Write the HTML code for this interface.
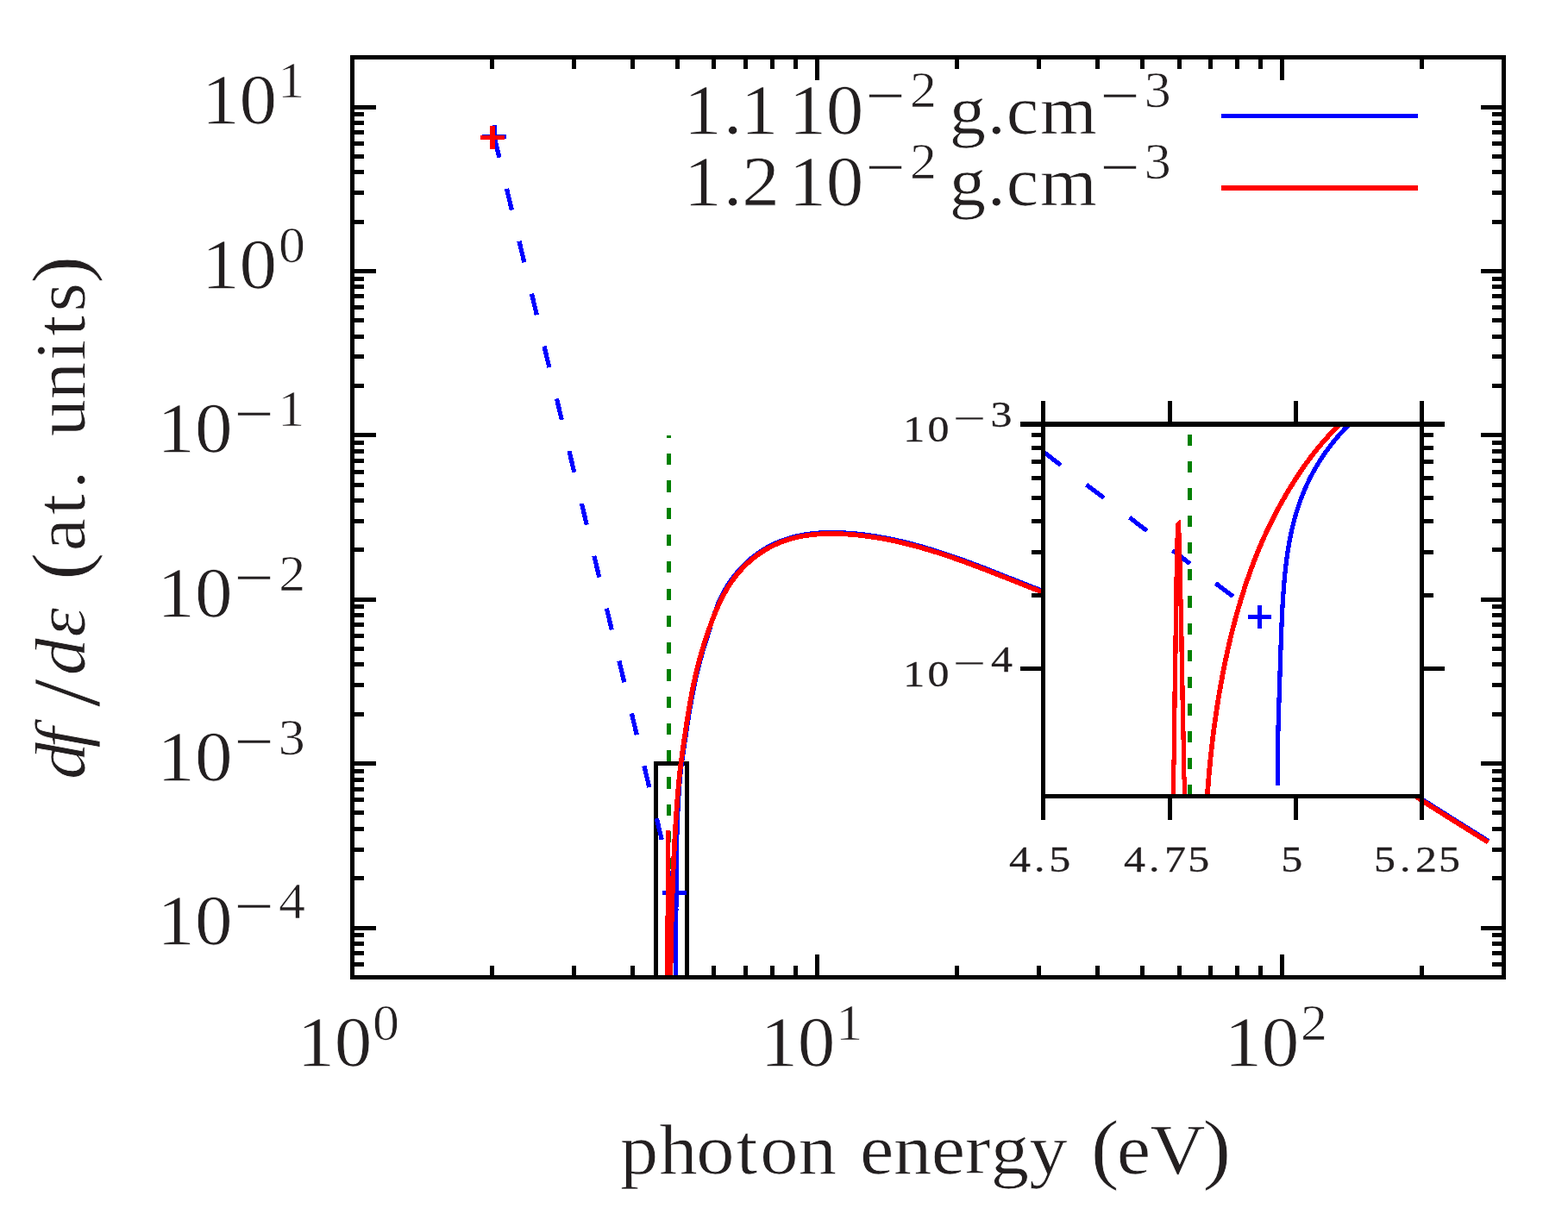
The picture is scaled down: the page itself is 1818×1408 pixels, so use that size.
<!DOCTYPE html>
<html lang="en"><head><meta charset="utf-8"><title>df/dε vs photon energy</title>
<style>html,body{margin:0;padding:0;background:#fff;overflow:hidden}svg{display:block}text{white-space:pre}</style>
</head><body>
<svg width="1818" height="1408" viewBox="0 0 1818 1408" xml:space="preserve" font-family="'Liberation Serif', 'DejaVu Serif', serif" fill="#231f20">
<rect width="1818" height="1408" fill="#fff"/>
<defs>
<clipPath id="cm"><rect x="408.5" y="66.5" width="1335.0" height="1067.0"/></clipPath>
<clipPath id="ci"><rect x="1209.7" y="491.7" width="438.79999999999995" height="431.8"/></clipPath>
</defs>
<g shape-rendering="crispEdges">
<rect x="758.11" y="883.10" width="5.00" height="250.40" fill="#000"/>
<rect x="794.20" y="883.10" width="5.00" height="250.40" fill="#000"/>
<rect x="758.11" y="883.10" width="41.09" height="5.00" fill="#000"/>
</g>
<g shape-rendering="crispEdges" fill="none">
<g clip-path="url(#cm)">
<path d="M775.5,1133.5 L775.5,504.80" stroke="#008000" stroke-width="5" stroke-dasharray="13.2 18.07"/>
<path d="M573.00,158.00L782.00,1035.80" stroke="#0000ff" stroke-width="5.2" stroke-dasharray="25.4 37.16"/>
</g>
<path d="M559.0,158.6 H587.0 M573.0,145.1 V172.1" stroke="#0000ff" stroke-width="5"/>
<path d="M768.0,1035.8 H796.0 M782.0,1021.8 V1049.8" stroke="#0000ff" stroke-width="5"/>
<g clip-path="url(#cm)">
<path d="M783.61,1166.44C783.61,1165.66 783.60,1163.31 783.60,1161.74C783.60,1160.17 783.59,1158.61 783.59,1157.04C783.59,1155.47 783.59,1153.91 783.59,1152.34C783.59,1150.77 783.59,1149.21 783.59,1147.64C783.59,1146.08 783.59,1144.51 783.59,1142.94C783.60,1141.38 783.60,1139.81 783.60,1138.24C783.61,1136.68 783.61,1135.11 783.61,1133.54C783.62,1131.98 783.62,1130.41 783.63,1128.84C783.63,1127.28 783.64,1125.71 783.64,1124.14C783.65,1122.58 783.65,1121.01 783.66,1119.44C783.66,1117.88 783.67,1116.31 783.67,1114.74C783.68,1113.18 783.68,1111.61 783.69,1110.05C783.70,1108.48 783.70,1106.91 783.71,1105.35C783.71,1103.78 783.72,1102.21 783.73,1100.65C783.73,1099.08 783.74,1097.51 783.75,1095.95C783.75,1094.38 783.76,1092.81 783.76,1091.25C783.77,1089.68 783.78,1088.11 783.78,1086.55C783.79,1084.98 783.80,1083.41 783.80,1081.85C783.81,1080.28 783.81,1078.72 783.82,1077.15C783.83,1075.58 783.83,1074.02 783.84,1072.45C783.84,1070.88 783.85,1069.32 783.86,1067.75C783.86,1066.18 783.87,1064.62 783.88,1063.05C783.88,1061.48 783.89,1059.92 783.89,1058.35C783.90,1056.78 783.91,1055.22 783.91,1053.65C783.92,1052.08 783.93,1050.52 783.94,1048.95C783.94,1047.38 783.95,1045.82 783.96,1044.25C783.97,1042.69 783.97,1041.12 783.98,1039.55C783.99,1037.99 784.00,1036.42 784.01,1034.85C784.02,1033.29 784.02,1031.72 784.03,1030.15C784.04,1028.59 784.05,1027.02 784.06,1025.45C784.08,1023.89 784.09,1022.32 784.10,1020.75C784.11,1019.19 784.12,1017.62 784.14,1016.05C784.15,1014.49 784.16,1012.92 784.18,1011.35C784.19,1009.79 784.21,1008.22 784.23,1006.66C784.24,1005.09 784.26,1003.52 784.28,1001.96C784.30,1000.39 784.32,998.82 784.34,997.26C784.36,995.69 784.39,994.12 784.41,992.56C784.43,990.99 784.46,989.42 784.49,987.86C784.51,986.29 784.54,984.72 784.57,983.16C784.60,981.59 784.63,980.02 784.67,978.46C784.70,976.89 784.73,975.32 784.77,973.76C784.81,972.19 784.85,970.63 784.89,969.06C784.93,967.49 784.97,965.93 785.02,964.36C785.06,962.79 785.11,961.23 785.16,959.66C785.21,958.09 785.27,956.53 785.32,954.96C785.38,953.39 785.44,951.83 785.50,950.26C785.56,948.69 785.62,947.13 785.69,945.56C785.76,943.99 785.83,942.43 785.90,940.86C785.98,939.29 786.05,937.73 786.13,936.16C786.21,934.60 786.30,933.03 786.38,931.46C786.47,929.90 786.56,928.33 786.66,926.76C786.75,925.20 786.85,923.63 786.96,922.06C787.06,920.50 787.17,918.93 787.28,917.36C787.39,915.80 787.51,914.23 787.63,912.66C787.75,911.10 787.87,909.53 788.00,907.96C788.13,906.40 788.27,904.83 788.41,903.27C788.55,901.70 788.69,900.13 788.84,898.57C788.99,897.00 789.15,895.43 789.31,893.87C789.47,892.30 788.92,895.47 789.81,889.17C790.71,882.86 793.72,862.56 794.68,856.05C795.64,849.53 795.26,852.07 795.55,850.09C795.85,848.10 796.14,846.11 796.44,844.13C796.74,842.14 797.04,840.15 797.35,838.17C797.66,836.18 797.97,834.20 798.28,832.22C798.60,830.23 798.92,828.25 799.24,826.27C799.57,824.29 799.90,822.31 800.24,820.33C800.57,818.35 800.92,816.37 801.27,814.39C801.62,812.41 801.98,810.44 802.35,808.46C802.71,806.49 803.09,804.52 803.47,802.55C803.86,800.58 804.25,798.61 804.65,796.64C805.06,794.67 805.47,792.71 805.89,790.74C806.32,788.78 806.75,786.82 807.20,784.86C807.64,782.90 808.10,780.95 808.57,778.99C809.03,777.04 809.51,775.09 810.01,773.14C810.50,771.19 811.00,769.24 811.52,767.30C812.03,765.35 812.56,763.41 813.10,761.47C813.64,759.54 814.19,757.60 814.75,755.67C815.32,753.74 815.89,751.81 816.48,749.88C817.07,747.96 817.67,746.03 818.28,744.12C818.89,742.20 819.54,740.29 820.15,738.37C820.77,736.45 821.38,734.53 821.97,732.61C822.55,730.68 823.08,728.74 823.66,726.81C824.24,724.88 824.83,722.96 825.43,721.04C826.04,719.12 826.65,717.20 827.28,715.29C827.92,713.38 828.56,711.48 829.23,709.58C829.90,707.69 830.60,705.85 831.29,703.93C831.97,702.01 832.55,699.94 833.33,698.06C834.11,696.18 835.07,694.44 835.97,692.65C836.88,690.86 837.81,689.08 838.77,687.33C839.74,685.57 840.73,683.83 841.75,682.11C842.77,680.40 843.83,678.69 844.92,677.02C846.01,675.34 847.13,673.69 848.29,672.06C849.46,670.43 850.66,668.82 851.90,667.25C853.14,665.67 854.42,664.12 855.73,662.59C857.05,661.07 858.41,659.58 859.79,658.12C861.18,656.65 862.61,655.22 864.07,653.83C865.52,652.43 867.01,651.07 868.54,649.74C870.06,648.41 871.61,647.12 873.19,645.87C874.77,644.61 876.38,643.40 878.02,642.22C879.66,641.05 881.32,639.91 883.01,638.82C884.70,637.73 886.41,636.68 888.14,635.67C889.88,634.67 891.64,633.71 893.41,632.80C895.19,631.89 896.76,631.10 898.81,630.20C900.86,629.30 903.62,628.20 905.71,627.40C907.79,626.59 909.43,626.00 911.31,625.36C913.20,624.73 915.10,624.14 917.01,623.59C918.92,623.04 920.85,622.54 922.79,622.07C924.72,621.61 926.68,621.19 928.64,620.80C930.60,620.41 932.57,620.06 934.55,619.75C936.53,619.44 938.52,619.17 940.52,618.93C942.52,618.69 944.52,618.48 946.53,618.31C948.54,618.14 950.56,618.00 952.58,617.89C954.60,617.78 956.63,617.70 958.65,617.65C960.68,617.60 962.71,617.58 964.74,617.58C966.78,617.58 968.81,617.61 970.84,617.66C972.87,617.71 974.91,617.79 976.94,617.89C978.97,617.98 981.00,618.10 983.02,618.24C985.04,618.38 987.07,618.53 989.08,618.70C991.10,618.88 993.11,619.07 995.12,619.27C997.13,619.48 999.13,619.71 1001.13,619.95C1003.13,620.19 1005.13,620.44 1007.12,620.72C1009.12,620.99 1011.11,621.28 1013.09,621.58C1015.08,621.89 1017.06,622.21 1019.04,622.54C1021.02,622.88 1022.99,623.23 1024.96,623.59C1026.94,623.96 1028.90,624.33 1030.87,624.73C1032.83,625.12 1034.80,625.52 1036.75,625.94C1038.71,626.36 1040.67,626.80 1042.62,627.24C1044.57,627.69 1046.52,628.14 1048.47,628.61C1050.41,629.08 1052.36,629.57 1054.30,630.06C1056.24,630.55 1058.17,631.06 1060.11,631.58C1062.04,632.09 1063.97,632.62 1065.90,633.16C1067.83,633.70 1069.76,634.25 1071.68,634.81C1073.61,635.37 1075.53,635.93 1077.45,636.51C1079.37,637.09 1081.28,637.68 1083.20,638.28C1085.11,638.87 1087.02,639.48 1088.93,640.09C1090.84,640.71 1092.75,641.33 1094.66,641.96C1096.56,642.59 1098.46,643.23 1100.37,643.88C1102.27,644.52 1104.17,645.18 1106.06,645.84C1107.96,646.49 1109.86,647.16 1111.75,647.83C1113.65,648.51 1115.54,649.19 1117.43,649.87C1119.32,650.56 1121.21,651.25 1123.09,651.94C1124.98,652.64 1126.87,653.34 1128.75,654.05C1130.64,654.75 1132.52,655.46 1134.40,656.18C1136.28,656.89 1138.16,657.61 1140.04,658.33C1141.92,659.05 1143.80,659.78 1145.68,660.51C1147.55,661.24 1149.43,661.97 1151.30,662.70C1153.18,663.44 1155.05,664.18 1156.92,664.91C1158.80,665.65 1160.67,666.39 1162.54,667.14C1164.41,667.88 1166.28,668.62 1168.15,669.37C1170.02,670.11 1171.89,670.86 1173.76,671.60C1175.63,672.35 1177.50,673.09 1179.36,673.84C1181.23,674.58 1183.10,675.33 1184.97,676.08C1186.83,676.82 1188.70,677.56 1190.57,678.31C1192.43,679.05 1194.30,679.79 1196.17,680.53C1198.03,681.27 1199.90,682.01 1201.76,682.74C1203.63,683.48 1190.94,677.97 1207.36,684.94C1223.78,691.92 1268.14,709.66 1300.30,724.60C1332.46,739.54 1366.97,756.77 1400.30,774.60C1433.63,792.43 1466.97,811.60 1500.30,831.60C1533.63,851.60 1575.15,878.45 1600.30,894.60C1625.45,910.75 1630.28,915.02 1651.20,928.50C1672.12,941.98 1713.37,967.67 1725.80,975.50" stroke="#0000ff" stroke-width="5.2"/>
<path d="M773.50,1160.00L773.60,1133.50L774.45,990.00L774.60,962.90L774.70,990.00L774.95,1133.50L775.00,1160.00" stroke="#ff0000" stroke-width="5" stroke-linejoin="bevel"/>
<path d="M776.74,1192.85C776.77,1189.88 776.89,1178.77 776.93,1175.02C776.96,1171.27 776.95,1171.90 776.97,1170.33C776.98,1168.77 777.00,1167.21 777.01,1165.65C777.03,1164.09 777.04,1162.52 777.06,1160.96C777.07,1159.40 777.09,1157.84 777.11,1156.28C777.13,1154.71 777.14,1153.15 777.16,1151.59C777.18,1150.03 777.20,1148.46 777.22,1146.90C777.24,1145.34 777.26,1143.78 777.28,1142.22C777.30,1140.65 777.32,1139.09 777.34,1137.53C777.36,1135.97 777.39,1134.40 777.41,1132.84C777.43,1131.28 777.46,1129.72 777.48,1128.16C777.50,1126.59 777.53,1125.03 777.55,1123.47C777.58,1121.91 777.60,1120.34 777.63,1118.78C777.66,1117.22 777.68,1115.66 777.71,1114.10C777.74,1112.53 777.77,1110.97 777.79,1109.41C777.82,1107.85 777.85,1106.29 777.88,1104.72C777.91,1103.16 777.94,1101.60 777.97,1100.04C778.00,1098.47 778.04,1096.91 778.07,1095.35C778.10,1093.79 778.13,1092.23 778.17,1090.66C778.20,1089.10 778.24,1087.54 778.27,1085.98C778.31,1084.41 778.34,1082.85 778.38,1081.29C778.41,1079.73 778.45,1078.17 778.49,1076.60C778.53,1075.04 778.57,1073.48 778.61,1071.92C778.64,1070.35 778.68,1068.79 778.73,1067.23C778.77,1065.67 778.81,1064.11 778.85,1062.54C778.89,1060.98 778.94,1059.42 778.98,1057.86C779.02,1056.29 779.07,1054.73 779.11,1053.17C779.16,1051.61 779.21,1050.05 779.25,1048.48C779.30,1046.92 779.35,1045.36 779.40,1043.80C779.45,1042.24 779.50,1040.67 779.55,1039.11C779.60,1037.55 779.65,1035.99 779.70,1034.42C779.76,1032.86 779.81,1031.30 779.86,1029.74C779.92,1028.18 779.98,1026.61 780.03,1025.05C780.09,1023.49 780.15,1021.93 780.20,1020.36C780.26,1018.80 780.32,1017.24 780.38,1015.68C780.45,1014.12 780.51,1012.55 780.57,1010.99C780.63,1009.43 780.70,1007.87 780.76,1006.30C780.83,1004.74 780.89,1003.18 780.96,1001.62C781.03,1000.06 781.10,998.49 781.17,996.93C781.24,995.37 781.31,993.81 781.38,992.25C781.46,990.68 781.53,989.12 781.61,987.56C781.68,986.00 781.76,984.43 781.84,982.87C781.92,981.31 782.00,979.75 782.08,978.19C782.16,976.62 782.24,975.06 782.33,973.50C782.41,971.94 782.50,970.37 782.59,968.81C782.68,967.25 782.77,965.69 782.86,964.13C782.95,962.56 783.04,961.00 783.14,959.44C783.24,957.88 783.33,956.31 783.43,954.75C783.53,953.19 783.63,951.63 783.73,950.07C783.84,948.50 783.94,946.94 784.05,945.38C784.15,943.82 784.26,942.25 784.37,940.69C784.48,939.13 784.59,937.57 784.70,936.01C784.81,934.44 784.93,932.88 785.05,931.32C785.16,929.76 785.28,928.20 785.40,926.63C785.53,925.07 785.65,923.51 785.78,921.95C785.90,920.38 786.03,918.82 786.16,917.26C786.30,915.70 786.43,914.14 786.57,912.57C786.71,911.01 786.85,909.45 787.00,907.89C787.14,906.32 787.29,904.76 787.44,903.20C787.60,901.64 787.76,900.08 787.92,898.51C788.08,896.95 788.25,895.39 788.42,893.83C788.60,892.26 788.39,893.45 788.96,889.14C789.53,884.83 791.23,872.49 791.85,867.97C792.48,863.45 792.42,864.00 792.71,862.01C793.00,860.02 793.29,858.04 793.58,856.05C793.87,854.06 794.16,852.07 794.45,850.09C794.75,848.10 795.04,846.11 795.34,844.13C795.64,842.14 795.94,840.15 796.25,838.17C796.56,836.18 796.87,834.20 797.18,832.22C797.50,830.23 797.82,828.25 798.14,826.27C798.47,824.29 798.80,822.31 799.14,820.33C799.47,818.35 799.82,816.37 800.17,814.39C800.52,812.41 800.88,810.44 801.25,808.46C801.61,806.49 801.99,804.52 802.37,802.55C802.76,800.58 803.15,798.61 803.55,796.64C803.96,794.67 804.37,792.71 804.79,790.74C805.22,788.78 805.65,786.82 806.10,784.86C806.54,782.90 807.00,780.95 807.47,778.99C807.93,777.04 808.41,775.09 808.91,773.14C809.40,771.19 809.90,769.24 810.42,767.30C810.93,765.35 811.46,763.41 812.00,761.47C812.54,759.54 813.09,757.60 813.65,755.67C814.22,753.74 814.79,751.81 815.38,749.88C815.97,747.96 816.57,746.03 817.18,744.12C817.79,742.20 818.42,740.28 819.05,738.37C819.69,736.46 820.34,734.55 821.00,732.65C821.66,730.74 822.33,728.84 823.02,726.95C823.71,725.05 824.40,723.16 825.12,721.27C825.83,719.38 826.55,717.50 827.29,715.62C828.03,713.75 828.78,711.87 829.56,710.01C830.33,708.15 831.12,706.29 831.93,704.45C832.74,702.61 833.57,700.78 834.43,698.96C835.29,697.14 836.17,695.34 837.07,693.55C837.98,691.76 838.91,689.98 839.87,688.23C840.84,686.47 841.83,684.73 842.85,683.01C843.87,681.30 844.93,679.59 846.02,677.92C847.11,676.24 848.23,674.59 849.39,672.96C850.56,671.33 851.76,669.72 853.00,668.15C854.24,666.57 855.52,665.02 856.83,663.49C858.15,661.97 859.51,660.48 860.89,659.02C862.28,657.55 863.71,656.12 865.17,654.73C866.62,653.33 868.11,651.97 869.64,650.64C871.16,649.31 872.71,648.02 874.29,646.77C875.87,645.51 877.48,644.30 879.12,643.12C880.76,641.95 882.42,640.81 884.11,639.72C885.80,638.63 887.51,637.58 889.24,636.57C890.98,635.57 892.74,634.61 894.51,633.70C896.29,632.79 898.09,631.92 899.91,631.10C901.72,630.29 903.56,629.52 905.41,628.80C907.26,628.07 909.13,627.40 911.01,626.76C912.90,626.13 914.80,625.54 916.71,624.99C918.62,624.44 920.55,623.94 922.49,623.47C924.42,623.01 926.38,622.59 928.34,622.20C930.30,621.81 932.27,621.46 934.25,621.15C936.23,620.84 938.22,620.57 940.22,620.33C942.22,620.09 944.22,619.88 946.23,619.71C948.24,619.54 950.26,619.40 952.28,619.29C954.30,619.18 956.33,619.10 958.35,619.05C960.38,619.00 962.41,618.98 964.44,618.98C966.48,618.98 968.51,619.01 970.54,619.06C972.57,619.11 974.61,619.19 976.64,619.29C978.67,619.38 980.70,619.50 982.72,619.64C984.74,619.78 986.77,619.93 988.78,620.10C990.80,620.28 992.81,620.47 994.82,620.67C996.83,620.88 998.83,621.11 1000.83,621.35C1002.83,621.59 1004.83,621.84 1006.82,622.12C1008.82,622.39 1010.81,622.68 1012.79,622.98C1014.78,623.29 1016.76,623.61 1018.74,623.94C1020.72,624.28 1022.69,624.63 1024.66,624.99C1026.64,625.36 1028.60,625.73 1030.57,626.13C1032.53,626.52 1034.50,626.92 1036.45,627.34C1038.41,627.76 1040.37,628.20 1042.32,628.64C1044.27,629.09 1046.22,629.54 1048.17,630.01C1050.11,630.48 1052.06,630.97 1054.00,631.46C1055.94,631.95 1057.87,632.46 1059.81,632.98C1061.74,633.49 1063.67,634.02 1065.60,634.56C1067.53,635.10 1069.46,635.65 1071.38,636.21C1073.31,636.77 1075.23,637.33 1077.15,637.91C1079.07,638.49 1080.98,639.08 1082.90,639.68C1084.81,640.27 1086.72,640.88 1088.63,641.49C1090.54,642.11 1092.45,642.73 1094.36,643.36C1096.26,643.99 1098.16,644.63 1100.07,645.28C1101.97,645.92 1103.87,646.58 1105.76,647.24C1107.66,647.89 1109.56,648.56 1111.45,649.23C1113.35,649.91 1115.24,650.59 1117.13,651.27C1119.02,651.96 1120.91,652.65 1122.79,653.34C1124.68,654.04 1126.57,654.74 1128.45,655.45C1130.34,656.15 1132.22,656.86 1134.10,657.58C1135.98,658.29 1137.86,659.01 1139.74,659.73C1141.62,660.45 1143.50,661.18 1145.38,661.91C1147.25,662.64 1149.13,663.37 1151.00,664.10C1152.88,664.84 1154.75,665.58 1156.62,666.31C1158.50,667.05 1160.37,667.79 1162.24,668.54C1164.11,669.28 1165.98,670.02 1167.85,670.77C1169.72,671.51 1171.59,672.26 1173.46,673.00C1175.33,673.75 1177.20,674.49 1179.06,675.24C1180.93,675.98 1182.80,676.73 1184.67,677.48C1186.53,678.22 1188.40,678.96 1190.27,679.71C1192.13,680.45 1194.00,681.19 1195.87,681.93C1197.73,682.67 1199.60,683.41 1201.46,684.14C1203.33,684.88 1190.64,679.37 1207.06,686.34C1223.48,693.32 1267.84,711.06 1300.00,726.00C1332.16,740.94 1366.67,758.17 1400.00,776.00C1433.33,793.83 1466.67,813.00 1500.00,833.00C1533.33,853.00 1574.85,879.85 1600.00,896.00C1625.15,912.15 1629.98,916.42 1650.90,929.90C1671.82,943.38 1713.07,969.07 1725.50,976.90" stroke="#ff0000" stroke-width="5.7"/>
</g>
<path d="M557.0,159.4 H585.0 M571.0,145.9 V172.9" stroke="#ff0000" stroke-width="5.6"/>
</g>
<g shape-rendering="crispEdges">
<rect x="406.00" y="64.00" width="1340.00" height="5.00" fill="#000"/>
<rect x="406.00" y="1131.00" width="1340.00" height="5.00" fill="#000"/>
<rect x="406.00" y="66.50" width="5.00" height="1067.00" fill="#000"/>
<rect x="1741.00" y="66.50" width="5.00" height="1067.00" fill="#000"/>
<rect x="568.27" y="1120.00" width="5.00" height="13.50" fill="#000"/>
<rect x="568.27" y="66.50" width="5.00" height="13.50" fill="#000"/>
<rect x="663.19" y="1120.00" width="5.00" height="13.50" fill="#000"/>
<rect x="663.19" y="66.50" width="5.00" height="13.50" fill="#000"/>
<rect x="730.54" y="1120.00" width="5.00" height="13.50" fill="#000"/>
<rect x="730.54" y="66.50" width="5.00" height="13.50" fill="#000"/>
<rect x="782.78" y="66.50" width="5.00" height="13.50" fill="#000"/>
<rect x="825.46" y="1120.00" width="5.00" height="13.50" fill="#000"/>
<rect x="825.46" y="66.50" width="5.00" height="13.50" fill="#000"/>
<rect x="861.55" y="1120.00" width="5.00" height="13.50" fill="#000"/>
<rect x="861.55" y="66.50" width="5.00" height="13.50" fill="#000"/>
<rect x="892.81" y="1120.00" width="5.00" height="13.50" fill="#000"/>
<rect x="892.81" y="66.50" width="5.00" height="13.50" fill="#000"/>
<rect x="920.38" y="1120.00" width="5.00" height="13.50" fill="#000"/>
<rect x="920.38" y="66.50" width="5.00" height="13.50" fill="#000"/>
<rect x="945.05" y="1107.00" width="5.00" height="26.50" fill="#000"/>
<rect x="945.05" y="66.50" width="5.00" height="26.50" fill="#000"/>
<rect x="1107.32" y="1120.00" width="5.00" height="13.50" fill="#000"/>
<rect x="1107.32" y="66.50" width="5.00" height="13.50" fill="#000"/>
<rect x="1202.24" y="1120.00" width="5.00" height="13.50" fill="#000"/>
<rect x="1202.24" y="66.50" width="5.00" height="13.50" fill="#000"/>
<rect x="1269.59" y="1120.00" width="5.00" height="13.50" fill="#000"/>
<rect x="1269.59" y="66.50" width="5.00" height="13.50" fill="#000"/>
<rect x="1321.83" y="1120.00" width="5.00" height="13.50" fill="#000"/>
<rect x="1321.83" y="66.50" width="5.00" height="13.50" fill="#000"/>
<rect x="1364.51" y="1120.00" width="5.00" height="13.50" fill="#000"/>
<rect x="1364.51" y="66.50" width="5.00" height="13.50" fill="#000"/>
<rect x="1400.60" y="1120.00" width="5.00" height="13.50" fill="#000"/>
<rect x="1400.60" y="66.50" width="5.00" height="13.50" fill="#000"/>
<rect x="1431.86" y="1120.00" width="5.00" height="13.50" fill="#000"/>
<rect x="1431.86" y="66.50" width="5.00" height="13.50" fill="#000"/>
<rect x="1459.43" y="1120.00" width="5.00" height="13.50" fill="#000"/>
<rect x="1459.43" y="66.50" width="5.00" height="13.50" fill="#000"/>
<rect x="1484.10" y="1107.00" width="5.00" height="26.50" fill="#000"/>
<rect x="1484.10" y="66.50" width="5.00" height="26.50" fill="#000"/>
<rect x="1646.37" y="1120.00" width="5.00" height="13.50" fill="#000"/>
<rect x="1646.37" y="66.50" width="5.00" height="13.50" fill="#000"/>
<rect x="408.50" y="1115.74" width="13.50" height="5.00" fill="#000"/>
<rect x="1730.00" y="1115.74" width="13.50" height="5.00" fill="#000"/>
<rect x="408.50" y="1102.99" width="13.50" height="5.00" fill="#000"/>
<rect x="1730.00" y="1102.99" width="13.50" height="5.00" fill="#000"/>
<rect x="408.50" y="1091.95" width="13.50" height="5.00" fill="#000"/>
<rect x="1730.00" y="1091.95" width="13.50" height="5.00" fill="#000"/>
<rect x="408.50" y="1082.21" width="13.50" height="5.00" fill="#000"/>
<rect x="1730.00" y="1082.21" width="13.50" height="5.00" fill="#000"/>
<rect x="408.50" y="1073.50" width="27.40" height="5.00" fill="#000"/>
<rect x="1717.00" y="1073.50" width="26.50" height="5.00" fill="#000"/>
<rect x="408.50" y="1016.18" width="13.50" height="5.00" fill="#000"/>
<rect x="1730.00" y="1016.18" width="13.50" height="5.00" fill="#000"/>
<rect x="408.50" y="982.66" width="13.50" height="5.00" fill="#000"/>
<rect x="1730.00" y="982.66" width="13.50" height="5.00" fill="#000"/>
<rect x="408.50" y="958.87" width="13.50" height="5.00" fill="#000"/>
<rect x="1730.00" y="958.87" width="13.50" height="5.00" fill="#000"/>
<rect x="408.50" y="940.42" width="13.50" height="5.00" fill="#000"/>
<rect x="1730.00" y="940.42" width="13.50" height="5.00" fill="#000"/>
<rect x="408.50" y="925.34" width="13.50" height="5.00" fill="#000"/>
<rect x="1730.00" y="925.34" width="13.50" height="5.00" fill="#000"/>
<rect x="408.50" y="912.59" width="13.50" height="5.00" fill="#000"/>
<rect x="1730.00" y="912.59" width="13.50" height="5.00" fill="#000"/>
<rect x="408.50" y="901.55" width="13.50" height="5.00" fill="#000"/>
<rect x="1730.00" y="901.55" width="13.50" height="5.00" fill="#000"/>
<rect x="408.50" y="891.81" width="13.50" height="5.00" fill="#000"/>
<rect x="1730.00" y="891.81" width="13.50" height="5.00" fill="#000"/>
<rect x="408.50" y="883.10" width="27.40" height="5.00" fill="#000"/>
<rect x="1717.00" y="883.10" width="26.50" height="5.00" fill="#000"/>
<rect x="408.50" y="825.78" width="13.50" height="5.00" fill="#000"/>
<rect x="1730.00" y="825.78" width="13.50" height="5.00" fill="#000"/>
<rect x="408.50" y="792.26" width="13.50" height="5.00" fill="#000"/>
<rect x="1730.00" y="792.26" width="13.50" height="5.00" fill="#000"/>
<rect x="408.50" y="768.47" width="13.50" height="5.00" fill="#000"/>
<rect x="1730.00" y="768.47" width="13.50" height="5.00" fill="#000"/>
<rect x="408.50" y="750.02" width="13.50" height="5.00" fill="#000"/>
<rect x="1730.00" y="750.02" width="13.50" height="5.00" fill="#000"/>
<rect x="408.50" y="734.94" width="13.50" height="5.00" fill="#000"/>
<rect x="1730.00" y="734.94" width="13.50" height="5.00" fill="#000"/>
<rect x="408.50" y="722.19" width="13.50" height="5.00" fill="#000"/>
<rect x="1730.00" y="722.19" width="13.50" height="5.00" fill="#000"/>
<rect x="408.50" y="711.15" width="13.50" height="5.00" fill="#000"/>
<rect x="1730.00" y="711.15" width="13.50" height="5.00" fill="#000"/>
<rect x="408.50" y="701.41" width="13.50" height="5.00" fill="#000"/>
<rect x="1730.00" y="701.41" width="13.50" height="5.00" fill="#000"/>
<rect x="408.50" y="692.70" width="27.40" height="5.00" fill="#000"/>
<rect x="1717.00" y="692.70" width="26.50" height="5.00" fill="#000"/>
<rect x="408.50" y="635.38" width="13.50" height="5.00" fill="#000"/>
<rect x="1730.00" y="635.38" width="13.50" height="5.00" fill="#000"/>
<rect x="408.50" y="601.86" width="13.50" height="5.00" fill="#000"/>
<rect x="1730.00" y="601.86" width="13.50" height="5.00" fill="#000"/>
<rect x="408.50" y="578.07" width="13.50" height="5.00" fill="#000"/>
<rect x="1730.00" y="578.07" width="13.50" height="5.00" fill="#000"/>
<rect x="408.50" y="559.62" width="13.50" height="5.00" fill="#000"/>
<rect x="1730.00" y="559.62" width="13.50" height="5.00" fill="#000"/>
<rect x="408.50" y="544.54" width="13.50" height="5.00" fill="#000"/>
<rect x="1730.00" y="544.54" width="13.50" height="5.00" fill="#000"/>
<rect x="408.50" y="531.79" width="13.50" height="5.00" fill="#000"/>
<rect x="1730.00" y="531.79" width="13.50" height="5.00" fill="#000"/>
<rect x="408.50" y="520.75" width="13.50" height="5.00" fill="#000"/>
<rect x="1730.00" y="520.75" width="13.50" height="5.00" fill="#000"/>
<rect x="408.50" y="511.01" width="13.50" height="5.00" fill="#000"/>
<rect x="1730.00" y="511.01" width="13.50" height="5.00" fill="#000"/>
<rect x="408.50" y="502.30" width="27.40" height="5.00" fill="#000"/>
<rect x="1717.00" y="502.30" width="26.50" height="5.00" fill="#000"/>
<rect x="408.50" y="444.98" width="13.50" height="5.00" fill="#000"/>
<rect x="1730.00" y="444.98" width="13.50" height="5.00" fill="#000"/>
<rect x="408.50" y="411.46" width="13.50" height="5.00" fill="#000"/>
<rect x="1730.00" y="411.46" width="13.50" height="5.00" fill="#000"/>
<rect x="408.50" y="387.67" width="13.50" height="5.00" fill="#000"/>
<rect x="1730.00" y="387.67" width="13.50" height="5.00" fill="#000"/>
<rect x="408.50" y="369.22" width="13.50" height="5.00" fill="#000"/>
<rect x="1730.00" y="369.22" width="13.50" height="5.00" fill="#000"/>
<rect x="408.50" y="354.14" width="13.50" height="5.00" fill="#000"/>
<rect x="1730.00" y="354.14" width="13.50" height="5.00" fill="#000"/>
<rect x="408.50" y="341.39" width="13.50" height="5.00" fill="#000"/>
<rect x="1730.00" y="341.39" width="13.50" height="5.00" fill="#000"/>
<rect x="408.50" y="330.35" width="13.50" height="5.00" fill="#000"/>
<rect x="1730.00" y="330.35" width="13.50" height="5.00" fill="#000"/>
<rect x="408.50" y="320.61" width="13.50" height="5.00" fill="#000"/>
<rect x="1730.00" y="320.61" width="13.50" height="5.00" fill="#000"/>
<rect x="408.50" y="311.90" width="27.40" height="5.00" fill="#000"/>
<rect x="1717.00" y="311.90" width="26.50" height="5.00" fill="#000"/>
<rect x="408.50" y="254.58" width="13.50" height="5.00" fill="#000"/>
<rect x="1730.00" y="254.58" width="13.50" height="5.00" fill="#000"/>
<rect x="408.50" y="221.06" width="13.50" height="5.00" fill="#000"/>
<rect x="1730.00" y="221.06" width="13.50" height="5.00" fill="#000"/>
<rect x="408.50" y="197.27" width="13.50" height="5.00" fill="#000"/>
<rect x="1730.00" y="197.27" width="13.50" height="5.00" fill="#000"/>
<rect x="408.50" y="178.82" width="13.50" height="5.00" fill="#000"/>
<rect x="1730.00" y="178.82" width="13.50" height="5.00" fill="#000"/>
<rect x="408.50" y="163.74" width="13.50" height="5.00" fill="#000"/>
<rect x="1730.00" y="163.74" width="13.50" height="5.00" fill="#000"/>
<rect x="408.50" y="150.99" width="13.50" height="5.00" fill="#000"/>
<rect x="1730.00" y="150.99" width="13.50" height="5.00" fill="#000"/>
<rect x="408.50" y="139.95" width="13.50" height="5.00" fill="#000"/>
<rect x="1730.00" y="139.95" width="13.50" height="5.00" fill="#000"/>
<rect x="408.50" y="130.21" width="13.50" height="5.00" fill="#000"/>
<rect x="1730.00" y="130.21" width="13.50" height="5.00" fill="#000"/>
<rect x="408.50" y="121.50" width="27.40" height="5.00" fill="#000"/>
<rect x="1717.00" y="121.50" width="26.50" height="5.00" fill="#000"/>
</g>
<rect x="1207.2" y="489.2" width="443.79999999999995" height="436.8" fill="#fff"/>
<g shape-rendering="crispEdges" fill="none">
<g clip-path="url(#ci)">
<path d="M1209.70,524.02L1460.40,715.30" stroke="#0000ff" stroke-width="5.2" stroke-dasharray="25.4 37.4"/>
<path d="M1379.6,923.5 L1379.6,491.7" stroke="#008000" stroke-width="5" stroke-dasharray="13.2 18.07"/>
<path d="M1481.57,910.60C1481.54,909.43 1481.45,905.93 1481.40,903.59C1481.36,901.25 1481.33,898.92 1481.31,896.58C1481.29,894.24 1481.27,891.91 1481.27,889.57C1481.27,887.23 1481.27,884.90 1481.29,882.56C1481.30,880.22 1481.32,877.89 1481.35,875.55C1481.38,873.21 1481.41,870.88 1481.45,868.54C1481.49,866.20 1481.53,863.87 1481.58,861.53C1481.63,859.19 1481.68,856.86 1481.74,854.52C1481.79,852.18 1481.86,849.85 1481.92,847.51C1481.98,845.17 1482.05,842.84 1482.12,840.50C1482.18,838.17 1482.25,835.83 1482.32,833.49C1482.40,831.16 1482.47,828.82 1482.54,826.48C1482.62,824.15 1482.69,821.81 1482.77,819.47C1482.85,817.14 1482.92,814.80 1483.00,812.46C1483.08,810.13 1483.15,807.79 1483.23,805.45C1483.31,803.12 1483.38,800.78 1483.46,798.44C1483.54,796.11 1483.61,793.77 1483.69,791.43C1483.77,789.10 1483.84,786.76 1483.92,784.42C1484.00,782.09 1484.07,779.75 1484.15,777.41C1484.23,775.08 1484.30,772.74 1484.38,770.40C1484.46,768.07 1484.53,765.73 1484.61,763.39C1484.69,761.06 1484.76,758.72 1484.84,756.38C1484.92,754.05 1485.00,751.71 1485.08,749.37C1485.16,747.04 1485.24,744.70 1485.33,742.36C1485.41,740.03 1485.50,737.69 1485.59,735.35C1485.67,733.02 1485.76,730.68 1485.86,728.34C1485.95,726.01 1486.05,723.67 1486.15,721.33C1486.25,719.00 1486.36,716.66 1486.47,714.32C1486.58,711.99 1486.69,709.65 1486.81,707.31C1486.93,704.98 1487.06,702.64 1487.19,700.30C1487.33,697.97 1487.47,695.63 1487.62,693.30C1487.77,690.96 1487.92,688.62 1488.09,686.29C1488.26,683.95 1488.43,681.61 1488.62,679.28C1488.81,676.94 1489.01,674.60 1489.22,672.27C1489.43,669.93 1489.65,667.59 1489.88,665.26C1490.12,662.92 1490.37,660.58 1490.64,658.25C1490.90,655.91 1491.18,653.57 1491.48,651.24C1491.78,648.90 1492.09,646.56 1492.42,644.23C1492.76,641.89 1493.11,639.55 1493.48,637.22C1493.85,634.88 1494.25,632.54 1494.66,630.21C1495.08,627.87 1495.52,625.53 1495.98,623.20C1496.45,620.86 1496.93,618.52 1497.45,616.19C1497.96,613.85 1498.50,611.51 1499.08,609.18C1499.65,606.84 1500.25,604.50 1500.88,602.17C1501.51,599.83 1502.17,597.49 1502.87,595.16C1503.57,592.82 1504.29,590.48 1505.06,588.15C1505.83,585.81 1506.63,583.47 1507.47,581.14C1508.31,578.80 1509.19,576.46 1510.12,574.13C1511.04,571.79 1512.00,569.45 1513.01,567.12C1514.02,564.78 1515.07,562.44 1516.17,560.11C1517.27,557.77 1518.41,555.43 1519.61,553.10C1520.80,550.76 1522.05,548.43 1523.35,546.09C1524.65,543.75 1526.00,541.42 1527.41,539.08C1528.81,536.74 1530.28,534.41 1531.80,532.07C1533.33,529.73 1534.91,527.40 1536.55,525.06C1538.20,522.72 1539.90,520.39 1541.68,518.05C1543.45,515.71 1545.29,513.38 1547.20,511.04C1549.11,508.70 1551.09,506.37 1553.14,504.03C1555.19,501.69 1557.32,499.36 1559.52,497.02C1561.72,494.68 1563.99,492.35 1566.35,490.01C1568.71,487.67 1572.45,484.17 1573.67,483.00" stroke="#0000ff" stroke-width="5.2"/>
<path d="M1357.60,930.00L1358.00,921.00L1359.50,803.00L1360.50,738.00L1361.50,669.00L1362.50,624.00L1363.00,607.40L1367.40,602.85L1369.05,602.85L1369.50,618.00L1370.50,650.00L1371.50,695.00L1372.50,738.00L1373.50,795.00L1375.90,921.00L1376.10,930.00L1371.10,930.00L1370.90,921.00L1368.00,788.00L1367.20,735.00L1366.50,703.00L1365.90,735.00L1365.00,788.00L1363.00,921.00L1362.80,930.00Z" fill="#ff0000" stroke="none"/>
<path d="M1397.60,950.00C1397.97,945.57 1399.35,929.00 1399.79,923.40C1400.24,917.80 1400.12,918.74 1400.29,916.41C1400.46,914.08 1400.63,911.75 1400.82,909.42C1401.00,907.09 1401.19,904.76 1401.39,902.43C1401.59,900.10 1401.79,897.77 1402.00,895.44C1402.21,893.11 1402.42,890.78 1402.65,888.45C1402.87,886.12 1403.10,883.79 1403.33,881.46C1403.57,879.13 1403.81,876.80 1404.06,874.47C1404.31,872.14 1404.56,869.81 1404.82,867.48C1405.09,865.15 1405.35,862.82 1405.63,860.49C1405.91,858.16 1406.19,855.83 1406.48,853.50C1406.77,851.17 1407.06,848.83 1407.37,846.50C1407.67,844.17 1407.98,841.84 1408.29,839.51C1408.61,837.18 1408.94,834.85 1409.27,832.52C1409.60,830.19 1409.94,827.86 1410.28,825.53C1410.63,823.20 1410.98,820.87 1411.34,818.54C1411.71,816.21 1412.07,813.88 1412.45,811.55C1412.83,809.22 1413.21,806.89 1413.60,804.56C1414.00,802.23 1414.40,799.90 1414.80,797.57C1415.21,795.24 1415.63,792.91 1416.05,790.58C1416.48,788.25 1416.91,785.92 1417.35,783.59C1417.80,781.26 1418.25,778.93 1418.70,776.60C1419.16,774.27 1419.63,771.94 1420.11,769.61C1420.59,767.28 1421.07,764.95 1421.57,762.62C1422.07,760.29 1422.57,757.96 1423.09,755.63C1423.60,753.30 1424.13,750.97 1424.66,748.64C1425.20,746.31 1425.74,743.98 1426.30,741.65C1426.85,739.32 1427.42,736.99 1427.99,734.66C1428.57,732.33 1429.16,730.00 1429.76,727.67C1430.35,725.34 1430.96,723.01 1431.58,720.68C1432.21,718.35 1432.84,716.02 1433.48,713.69C1434.12,711.36 1434.78,709.03 1435.45,706.70C1436.12,704.37 1436.80,702.03 1437.49,699.70C1438.18,697.37 1438.89,695.04 1439.60,692.71C1440.32,690.38 1441.05,688.05 1441.80,685.72C1442.54,683.39 1443.30,681.06 1444.07,678.73C1444.84,676.40 1445.63,674.07 1446.43,671.74C1447.23,669.41 1448.04,667.08 1448.87,664.75C1449.70,662.42 1450.55,660.09 1451.41,657.76C1452.27,655.43 1453.15,653.10 1454.04,650.77C1454.94,648.44 1455.85,646.11 1456.78,643.78C1457.71,641.45 1458.66,639.12 1459.63,636.79C1460.60,634.46 1461.59,632.13 1462.60,629.80C1463.61,627.47 1464.64,625.14 1465.69,622.81C1466.74,620.48 1467.81,618.15 1468.90,615.82C1469.99,613.49 1471.11,611.16 1472.24,608.83C1473.38,606.50 1474.54,604.17 1475.72,601.84C1476.90,599.51 1478.10,597.18 1479.33,594.85C1480.55,592.52 1481.80,590.19 1483.07,587.86C1484.34,585.53 1485.63,583.20 1486.95,580.87C1488.26,578.54 1489.60,576.21 1490.96,573.88C1492.33,571.55 1493.71,569.22 1495.12,566.89C1496.53,564.56 1497.96,562.23 1499.43,559.90C1500.89,557.57 1502.38,555.23 1503.90,552.90C1505.42,550.57 1506.97,548.24 1508.55,545.91C1510.14,543.58 1511.75,541.25 1513.41,538.92C1515.07,536.59 1516.76,534.26 1518.50,531.93C1520.24,529.60 1522.02,527.27 1523.86,524.94C1525.69,522.61 1527.57,520.28 1529.51,517.95C1531.45,515.62 1533.44,513.29 1535.50,510.96C1537.56,508.63 1539.67,506.30 1541.87,503.97C1544.06,501.64 1546.32,499.31 1548.67,496.98C1551.02,494.65 1553.43,492.32 1555.95,489.99C1558.47,487.66 1562.47,484.17 1563.78,483.00" stroke="#ff0000" stroke-width="5.7"/>
</g>
<path d="M1447.0,715.5 H1474.0 M1460.5,702.0 V729.0" stroke="#0000ff" stroke-width="5"/>
</g>
<g shape-rendering="crispEdges">
<rect x="1207.20" y="489.00" width="443.80" height="6.00" fill="#000"/>
<rect x="1207.20" y="921.00" width="443.80" height="5.00" fill="#000"/>
<rect x="1207.20" y="491.70" width="5.00" height="431.80" fill="#000"/>
<rect x="1646.00" y="491.70" width="5.00" height="431.80" fill="#000"/>
<rect x="1207.30" y="465.20" width="5.00" height="26.50" fill="#000"/>
<rect x="1207.30" y="923.50" width="5.00" height="27.30" fill="#000"/>
<rect x="1353.57" y="465.20" width="5.00" height="26.50" fill="#000"/>
<rect x="1353.57" y="923.50" width="5.00" height="27.30" fill="#000"/>
<rect x="1499.84" y="465.20" width="5.00" height="26.50" fill="#000"/>
<rect x="1499.84" y="923.50" width="5.00" height="27.30" fill="#000"/>
<rect x="1646.10" y="465.20" width="5.00" height="26.50" fill="#000"/>
<rect x="1646.10" y="923.50" width="5.00" height="27.30" fill="#000"/>
<rect x="1183.20" y="489.00" width="26.50" height="6.00" fill="#000"/>
<rect x="1648.50" y="489.00" width="26.50" height="6.00" fill="#000"/>
<rect x="1183.20" y="773.10" width="26.50" height="5.00" fill="#000"/>
<rect x="1648.50" y="773.10" width="26.50" height="5.00" fill="#000"/>
<rect x="1196.20" y="687.61" width="13.50" height="5.00" fill="#000"/>
<rect x="1648.50" y="687.61" width="13.50" height="5.00" fill="#000"/>
<rect x="1196.20" y="637.60" width="13.50" height="5.00" fill="#000"/>
<rect x="1648.50" y="637.60" width="13.50" height="5.00" fill="#000"/>
<rect x="1196.20" y="602.11" width="13.50" height="5.00" fill="#000"/>
<rect x="1648.50" y="602.11" width="13.50" height="5.00" fill="#000"/>
<rect x="1196.20" y="574.59" width="13.50" height="5.00" fill="#000"/>
<rect x="1648.50" y="574.59" width="13.50" height="5.00" fill="#000"/>
<rect x="1196.20" y="552.11" width="13.50" height="5.00" fill="#000"/>
<rect x="1648.50" y="552.11" width="13.50" height="5.00" fill="#000"/>
<rect x="1196.20" y="533.09" width="13.50" height="5.00" fill="#000"/>
<rect x="1648.50" y="533.09" width="13.50" height="5.00" fill="#000"/>
<rect x="1196.20" y="516.62" width="13.50" height="5.00" fill="#000"/>
<rect x="1648.50" y="516.62" width="13.50" height="5.00" fill="#000"/>
<rect x="1196.20" y="502.10" width="13.50" height="5.00" fill="#000"/>
<rect x="1648.50" y="502.10" width="13.50" height="5.00" fill="#000"/>
</g>
<g shape-rendering="crispEdges">
<rect x="1416.00" y="132.00" width="228.00" height="5.00" fill="#0000ff"/>
<rect x="1416.00" y="215.00" width="228.00" height="6.00" fill="#ff0000"/>
</g>
<text transform="translate(0,143.40) scale(1.0500,1)" font-size="83" stroke="#fff" stroke-width="0.7"><tspan x="222.95 264.30" y="0.00">10</tspan><tspan x="306.81" y="-30.10" font-size="59">1</tspan></text>
<text transform="translate(0,333.80) scale(1.0500,1)" font-size="83" stroke="#fff" stroke-width="0.7"><tspan x="222.95 264.30" y="0.00">10</tspan><tspan x="307.63" y="-30.10" font-size="59">0</tspan></text>
<text transform="translate(0,524.20) scale(1.0500,1)" font-size="83" stroke="#fff" stroke-width="0.7"><tspan x="173.57 215.30" y="0.00">10</tspan><tspan x="258.54" y="-18.60" font-size="78.0">−</tspan><tspan x="306.81" y="-30.10" font-size="59">1</tspan></text>
<text transform="translate(0,714.60) scale(1.0500,1)" font-size="83" stroke="#fff" stroke-width="0.7"><tspan x="173.57 215.30" y="0.00">10</tspan><tspan x="258.54" y="-18.60" font-size="78.0">−</tspan><tspan x="307.96" y="-30.10" font-size="59">2</tspan></text>
<text transform="translate(0,905.00) scale(1.0500,1)" font-size="83" stroke="#fff" stroke-width="0.7"><tspan x="173.57 215.30" y="0.00">10</tspan><tspan x="258.54" y="-18.60" font-size="78.0">−</tspan><tspan x="307.37" y="-30.10" font-size="59">3</tspan></text>
<text transform="translate(0,1095.40) scale(1.0500,1)" font-size="83" stroke="#fff" stroke-width="0.7"><tspan x="173.57 215.30" y="0.00">10</tspan><tspan x="258.54" y="-18.60" font-size="78.0">−</tspan><tspan x="307.52" y="-30.10" font-size="59">4</tspan></text>
<text transform="translate(0,1236.00) scale(1.0500,1)" font-size="83" stroke="#fff" stroke-width="0.7"><tspan x="328.09 369.30" y="0.00">10</tspan><tspan x="411.44" y="-30.00" font-size="59">0</tspan></text>
<text transform="translate(0,1236.00) scale(1.0500,1)" font-size="83" stroke="#fff" stroke-width="0.7"><tspan x="839.48 880.73" y="0.00">10</tspan><tspan x="923.00" y="-30.00" font-size="59">1</tspan></text>
<text transform="translate(0,1236.00) scale(1.0500,1)" font-size="83" stroke="#fff" stroke-width="0.7"><tspan x="1351.86 1393.15" y="0.00">10</tspan><tspan x="1436.25" y="-30.00" font-size="59">2</tspan></text>
<text transform="translate(0,1361.20) scale(1.0800,1)" font-size="82" stroke="#fff" stroke-width="0.7"><tspan x="665.63 707.74 747.56 790.44 815.89 857.24 906.44 923.10 959.36 999.68 1036.21 1063.61 1104.81 1154.01" y="0.00">photon energy </tspan><tspan x="1171.17" y="1.20" font-size="91">(</tspan><tspan x="1198.75 1234.74" y="0.00">eV</tspan><tspan x="1291.12" y="1.20" font-size="91">)</tspan></text>
<text transform="translate(0,155.20) scale(1.0500,1)" font-size="83" stroke="#fff" stroke-width="0.7"><tspan x="755.29 798.72 817.76 867.56 870.90 912.11" y="0.00">1.1 10</tspan><tspan x="955.63" y="-18.60" font-size="78.0">−</tspan><tspan x="1004.82" y="-31.70" font-size="59">2</tspan><tspan x="1042.37 1048.34 1090.22 1111.08 1148.67" y="0.00" font-size="80.5"> g.cm</tspan><tspan x="1214.78" y="-18.60" font-size="78.0">−</tspan><tspan x="1263.47" y="-31.70" font-size="59">3</tspan></text>
<text transform="translate(0,238.20) scale(1.0500,1)" font-size="83" stroke="#fff" stroke-width="0.7"><tspan x="755.29 798.72 819.24 869.04 870.90 912.11" y="0.00">1.2 10</tspan><tspan x="955.63" y="-18.60" font-size="78.0">−</tspan><tspan x="1004.82" y="-31.70" font-size="59">2</tspan><tspan x="1042.37 1048.34 1090.22 1111.08 1148.67" y="0.00" font-size="80.5"> g.cm</tspan><tspan x="1214.78" y="-18.60" font-size="78.0">−</tspan><tspan x="1263.47" y="-31.70" font-size="59">3</tspan></text>
<text transform="translate(98.40,901.00) rotate(-90) scale(1.0500,1)" font-size="82" stroke="#fff" stroke-width="0.7"><tspan x="-2.98 32.00" y="0.00" font-style="italic">df</tspan><tspan x="77.06" y="17.00" font-size="112">/</tspan><tspan x="112.21 154.43" y="0.00" font-style="italic">dε</tspan><tspan x="194.94" y="0.00"> </tspan><tspan x="217.36" y="1.20" font-size="91">(</tspan><tspan x="249.25 289.50 317.85 346.55 375.95 417.13 460.10 487.02 513.84" y="0.00">at. units</tspan><tspan x="545.10" y="1.20" font-size="91">)</tspan></text>
<text transform="translate(0,1011.00) scale(1.1600,1)" font-size="43" stroke="#231f20" stroke-width="0.3"><tspan x="1008.65 1033.68 1048.50" y="0.00">4.5</tspan></text>
<text transform="translate(0,1011.00) scale(1.1600,1)" font-size="43" stroke="#231f20" stroke-width="0.3"><tspan x="1123.30 1148.33 1163.71 1187.29" y="0.00">4.75</tspan></text>
<text transform="translate(0,1011.00) scale(1.1600,1)" font-size="43" stroke="#231f20" stroke-width="0.3"><tspan x="1280.31" y="0.00">5</tspan></text>
<text transform="translate(0,1011.00) scale(1.1600,1)" font-size="43" stroke="#231f20" stroke-width="0.3"><tspan x="1373.32 1399.11 1414.66 1438.02" y="0.00">5.25</tspan></text>
<text transform="translate(0,511.90) scale(1.1600,1)" font-size="43" stroke="#231f20" stroke-width="0.3"><tspan x="902.92 927.22" y="0.00">10</tspan><tspan x="952.12" y="-7.00" font-size="59.5" stroke="#fff" stroke-width="0.6">−</tspan><tspan x="990.18" y="-17.00">3</tspan></text>
<text transform="translate(0,795.90) scale(1.1600,1)" font-size="43" stroke="#231f20" stroke-width="0.3"><tspan x="902.92 927.22" y="0.00">10</tspan><tspan x="952.12" y="-7.00" font-size="59.5" stroke="#fff" stroke-width="0.6">−</tspan><tspan x="990.50" y="-17.00">4</tspan></text>
</svg>
</body></html>
